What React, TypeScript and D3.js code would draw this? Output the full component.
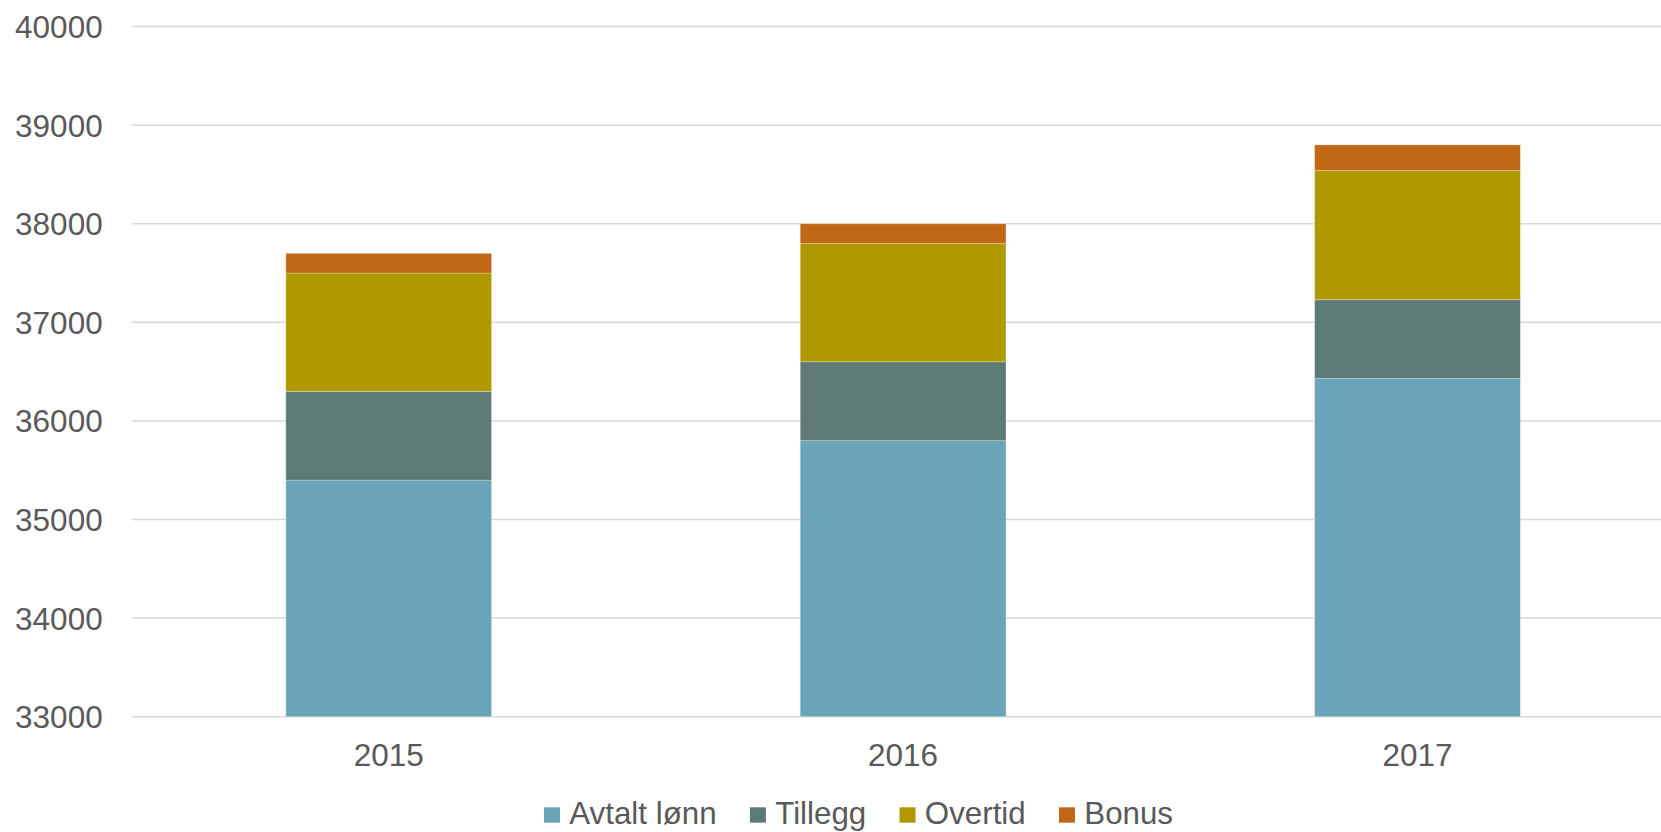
import React from "react";
import * as d3 from "d3";

const years = ["2015", "2016", "2017"];
const seriesNames = ["Avtalt lønn", "Tillegg", "Overtid", "Bonus"];
const avtaltLonn = [35400, 35800, 36430];
const tillegg = [900, 800, 800];
const overtid = [1200, 1200, 1310];
const bonus = [200, 200, 260];
const yTicks = [33000, 34000, 35000, 36000, 37000, 38000, 39000, 40000];
const colors = ["#6aa4b8", "#5e7a76", "#b09800", "#c06815"];

const W = 1661;
const H = 832;
const FONT = "'Liberation Sans', Arial, sans-serif";
const TEXT = "#595959";

export default function App() {
  const rows = years.map((y, i) => ({
    year: y,
    "Avtalt lønn": avtaltLonn[i],
    Tillegg: tillegg[i],
    Overtid: overtid[i],
    Bonus: bonus[i],
  }));
  const stacked = d3.stack<any>().keys(seriesNames)(rows);

  const x = d3
    .scaleBand<string>()
    .domain(years)
    .range([131.5, 131.5 + 3 * 514.4])
    .paddingInner(0.6)
    .paddingOuter(0.3);
  const y = d3.scaleLinear().domain([33000, 40000]).range([716.7, 26.6]).clamp(true);

  // legend layout
  let ctx: CanvasRenderingContext2D | null = null;
  try {
    ctx = document.createElement("canvas").getContext("2d");
  } catch (e) {}
  const legFont = 31.3;
  if (ctx) ctx.font = `${legFont}px 'Liberation Sans'`;
  let cursor = 544;
  const legendItems = seriesNames.map((name, i) => {
    const tw = ctx ? ctx.measureText(name).width : name.length * 16;
    const item = { name, color: colors[i], x: cursor, tw };
    cursor += 16 + 9.3 + tw + 33.3;
    return item;
  });

  return (
    <svg
      width={W}
      height={H}
      style={{ position: "absolute", left: 0, top: 0, background: "#fff" }}
      fontFamily={FONT}
    >
      {yTicks.map((t) => (
        <g key={t}>
          <line x1={131.7} x2={W} y1={y(t)} y2={y(t)} stroke="#d9d9d9" strokeWidth={1.5} />
          <text x={102.7} y={y(t) + 11.4} textAnchor="end" fontSize={31.5} fill={TEXT}>
            {t}
          </text>
        </g>
      ))}
      {stacked.map((s, si) => (
        <g key={s.key} fill={colors[si]}>
          {s.map((d, i) => (
            <rect
              key={i}
              x={x(years[i])!}
              width={x.bandwidth()}
              y={y(d[1])}
              height={y(d[0]) - y(d[1])}
              stroke="rgba(255,255,255,0.35)"
              strokeWidth={0.8}
            />
          ))}
        </g>
      ))}
      {years.map((yr) => (
        <text
          key={yr}
          x={x(yr)! + x.bandwidth() / 2}
          y={765.5}
          textAnchor="middle"
          fontSize={31.5}
          fill={TEXT}
        >
          {yr}
        </text>
      ))}
      {legendItems.map((it) => (
        <g key={it.name}>
          <rect x={it.x} y={807.3} width={16} height={15.4} fill={it.color} />
          <text x={it.x + 25.3} y={824.3} fontSize={legFont} fill={TEXT}>
            {it.name}
          </text>
        </g>
      ))}
    </svg>
  );
}
